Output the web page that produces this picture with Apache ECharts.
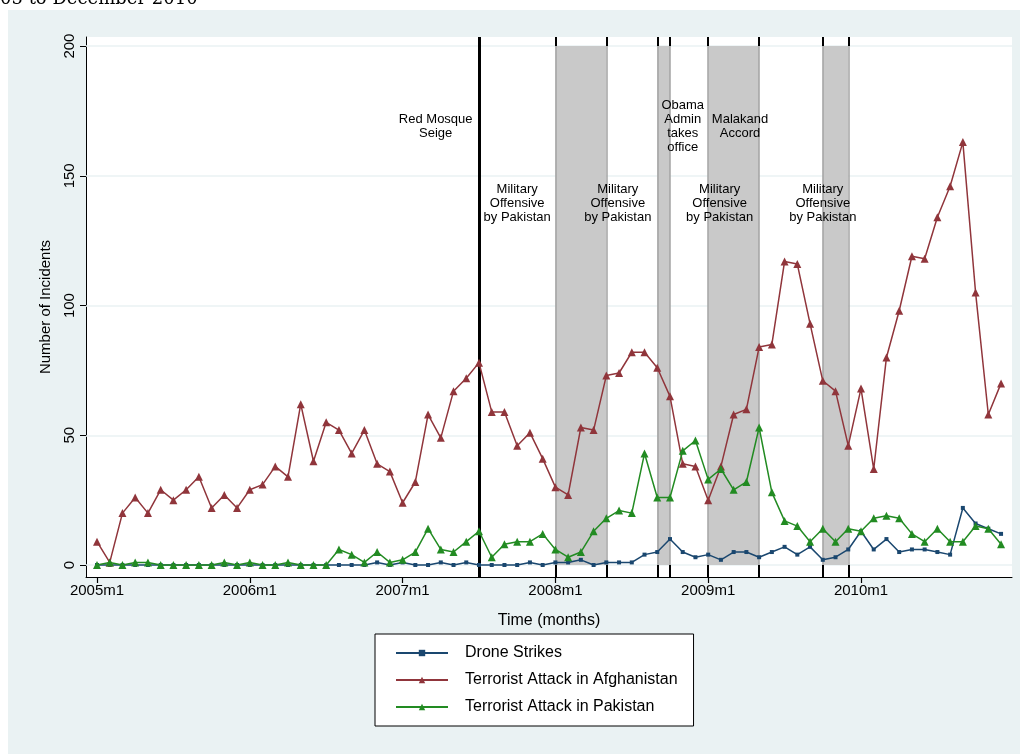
<!DOCTYPE html>
<html><head><meta charset="utf-8">
<script src="https://cdn.jsdelivr.net/npm/echarts@6/dist/echarts.min.js"></script>
<style>html,body{margin:0;padding:0;background:#fff}#c{width:1020px;height:754px}</style>
</head><body><div id="c"></div><script>
// months are indexed 0 = 2005m1 ... 71 = 2010m12
const droneStrikes = [
  0,0,0,0,0,0,0,0,0,0,0,0,
  0,0,0,0,0,0,0,0,0,0,1,0,
  1,0,0,1,0,1,0,0,0,0,1,0,
  1,1,2,0,1,1,1,4,5,10,5,3,
  4,2,5,5,3,5,7,4,7,2,3,6,
  13,6,10,5,6,6,5,4,22,16,14,12];
const attacksAfghanistan = [
  9,1,20,26,20,29,25,29,34,22,27,22,
  29,31,38,34,62,40,55,52,43,52,39,36,
  24,32,58,49,67,72,78,59,59,46,51,41,
  30,27,53,52,73,74,82,82,76,65,39,38,
  25,38,58,60,84,85,117,116,93,71,67,46,
  68,37,80,98,119,118,134,146,163,105,58,70];
const attacksPakistan = [
  0,1,0,1,1,0,0,0,0,0,1,0,
  1,0,0,1,0,0,0,6,4,1,5,1,
  2,5,14,6,5,9,13,3,8,9,9,12,
  6,3,5,13,18,21,20,43,26,26,44,48,
  33,37,29,32,53,28,17,15,9,14,9,14,
  13,18,19,18,12,9,14,9,9,15,14,8];
const xTickMonths = [0,12,24,36,48,60];
const xTickLabels = ['2005m1','2006m1','2007m1','2008m1','2009m1','2010m1'];
const yTicks = [0,50,100,150,200];
const seriesNames = ['Drone Strikes','Terrorist Attack in Afghanistan','Terrorist Attack in Pakistan'];
const redMosqueMonth = 30;          // 2007m7
const bands = [[36,40],[44,45],[48,52],[57,59]];
const annotations = [
  {text:'Red Mosque\nSeige', month:26.6, level:169},
  {text:'Military\nOffensive\nby Pakistan', month:33.0, level:139.5},
  {text:'Military\nOffensive\nby Pakistan', month:40.9, level:139.5},
  {text:'Obama\nAdmin\ntakes\noffice', month:46.0, level:169},
  {text:'Malakand\nAccord', month:50.5, level:169},
  {text:'Military\nOffensive\nby Pakistan', month:48.9, level:139.5},
  {text:'Military\nOffensive\nby Pakistan', month:57.0, level:139.5}
];

const FONT = '"Liberation Sans", Arial, Helvetica, sans-serif';
const toXY = arr => arr.map((v,i)=>[i,v]);
const X_MIN = -0.864, X_MAX = 71.86, Y_MIN = -4.62, Y_MAX = 203.5;
const edges = [];
bands.forEach(b=>{edges.push(b[0]); edges.push(b[1]);});

const edgeLines = [];
edges.forEach(e=>{
  edgeLines.push([{coord:[e,0], lineStyle:{color:'#a3a3a3', width:1.5, type:'solid'}},{coord:[e,200]}]);
  edgeLines.push([{coord:[e,Y_MIN], lineStyle:{color:'#000', width:2, type:'solid'}},{coord:[e,0]}]);
  edgeLines.push([{coord:[e,200], lineStyle:{color:'#000', width:2, type:'solid'}},{coord:[e,Y_MAX]}]);
});
edgeLines.push([{coord:[redMosqueMonth,Y_MIN], lineStyle:{color:'#000', width:3, type:'solid'}},{coord:[redMosqueMonth,Y_MAX]}]);

const chart = echarts.init(document.getElementById('c'), null, {renderer:'canvas'});
const option = {
  animation:false,
  backgroundColor:'#ffffff',
  graphic:[
    {type:'rect', z:-10, shape:{x:8,y:10,width:1012,height:744}, style:{fill:'#eaf2f3'}},
    {type:'text', z:-5, left:0, top:-10, style:{text:'05 to December 2010', font:'18px "DejaVu Serif", "Liberation Serif", serif', fill:'#000'}}
  ],
  grid:{left:86, top:37, right:8, bottom:177, show:true, backgroundColor:'#ffffff', borderWidth:0, containLabel:false},
  xAxis:{
    type:'value', min:X_MIN, max:X_MAX, position:'bottom',
    name:'Time (months)', nameLocation:'middle', nameGap:36,
    nameTextStyle:{fontFamily:FONT, fontSize:16, color:'#000'},
    axisLine:{show:true, onZero:false, lineStyle:{color:'#000', width:1}},
    axisTick:{show:true, length:6, lineStyle:{color:'#000', width:1.2}, customValues: xTickMonths},
    axisLabel:{show:true, customValues:xTickMonths, margin:6,
      formatter:v=>xTickLabels[xTickMonths.indexOf(Math.round(v))] || '',
      fontFamily:FONT, fontSize:15, color:'#000'},
    splitLine:{show:false}
  },
  yAxis:{
    type:'value', min:Y_MIN, max:Y_MAX,
    name:'Number of Incidents', nameLocation:'middle', nameGap:33,
    nameTextStyle:{fontFamily:FONT, fontSize:15, color:'#000'},
    axisLine:{show:true, onZero:false, lineStyle:{color:'#000', width:1}},
    axisTick:{show:true, length:6, lineStyle:{color:'#000', width:1}, customValues:yTicks},
    axisLabel:{show:true, customValues:yTicks, rotate:90, margin:9,
      fontFamily:FONT, fontSize:15, color:'#000'},
    splitLine:{show:false}
  },
  legend:{
    data:seriesNames, orient:'vertical', left:375, top:634,
    backgroundColor:'#fff', borderColor:'#000', borderWidth:1,
    padding:[10,16,10,20], itemGap:9, itemWidth:52, itemHeight:8,
    textStyle:{fontFamily:FONT, fontSize:16, color:'#000', lineHeight:18, padding:[0,0,0,12]}
  },
  series:[
    {
      name:'gridlines', type:'line', data:[], silent:true, z:1,
      markLine:{silent:true, symbol:['none','none'], z:1, label:{show:false},
        lineStyle:{color:'#eaf2f3', width:1.5, type:'solid'},
        data: yTicks.map(v=>({yAxis:v}))}
    },
    {
      name:'bands', type:'line', data:[], silent:true, z:2,
      markArea:{silent:true, z:2, itemStyle:{color:'#c9c9c9'},
        data: bands.map(b=>[{coord:[b[0],0]},{coord:[b[1],200]}])},
      markLine:{silent:true, symbol:['none','none'], z:2, label:{show:false}, data: edgeLines}
    },
    {
      name:seriesNames[0], type:'line', data:toXY(droneStrikes), z:4,
      symbol:'rect', symbolSize:4, showAllSymbol:true,
      lineStyle:{color:'#1a476f', width:1.5}, itemStyle:{color:'#1a476f'},
      markPoint:{silent:true, symbol:'circle', symbolSize:1, itemStyle:{color:'rgba(0,0,0,0)'},
        label:{show:true, position:'inside', color:'#000', fontFamily:FONT, fontSize:13, lineHeight:14, align:'center'},
        data: annotations.map(a=>({coord:[a.month,a.level], value:a.text, label:{formatter:a.text}}))}
    },
    {
      name:seriesNames[1], type:'line', data:toXY(attacksAfghanistan), z:5,
      symbol:'triangle', symbolSize:8, showAllSymbol:true,
      lineStyle:{color:'#90353b', width:1.5}, itemStyle:{color:'#90353b'}
    },
    {
      name:seriesNames[2], type:'line', data:toXY(attacksPakistan), z:6,
      symbol:'triangle', symbolSize:8, showAllSymbol:true,
      lineStyle:{color:'#228b22', width:1.5}, itemStyle:{color:'#228b22'}
    }
  ]
};
chart.setOption(option);
</script></body></html>
